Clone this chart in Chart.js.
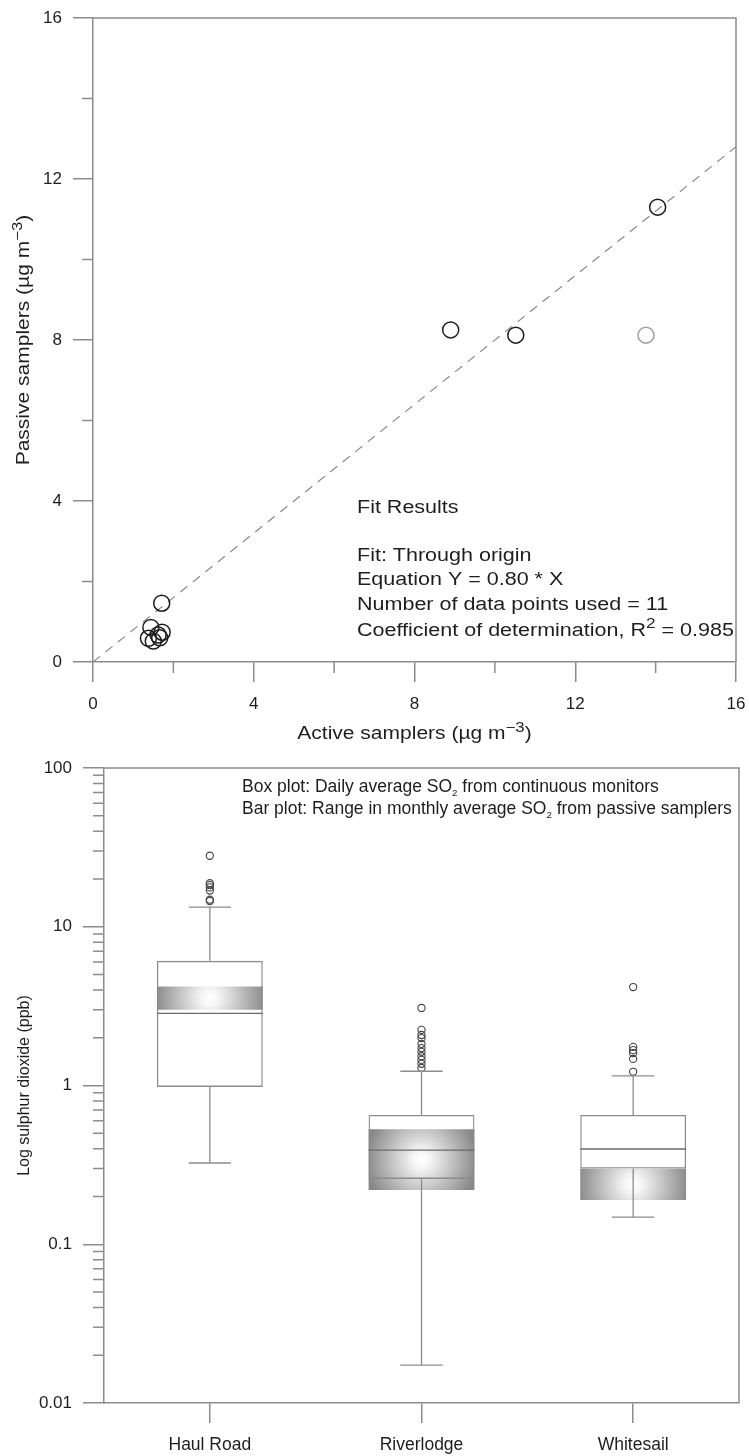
<!DOCTYPE html>
<html>
<head>
<meta charset="utf-8">
<script src="https://cdn.jsdelivr.net/npm/chart.js@4.4.1/dist/chart.umd.min.js"></script>
<style>
  html, body { margin: 0; padding: 0; background: #fff; }
  canvas { display: block; }
</style>
</head>
<body>
<canvas id="fitChart" width="749" height="750"></canvas>
<canvas id="boxChart" width="749" height="706"></canvas>
<script>
// ---- top panel: passive vs active samplers ----
const activeX  = [14.05, 8.9, 10.52, 1.71, 1.44, 1.38, 1.5, 1.62, 1.72, 1.66];
const passiveY = [11.3, 8.25, 8.12, 1.46, 0.86, 0.59, 0.52, 0.67, 0.74, 0.6];
const greyX = [13.76];
const greyY = [8.12];
const fitX = [0, 16];
const fitY = [0, 12.8];
const linTicks = [0, 2, 4, 6, 8, 10, 12, 14, 16];
const linMinor = [2, 6, 10, 14];

// ---- bottom panel: SO2 box plots ----
const sites = ['Haul Road', 'Riverlodge', 'Whitesail'];
const q1 = [0.98, 0.258, 0.30];
const q3 = [6.1, 0.652, 0.652];
const median = [2.85, 0.392, 0.398];
const whiskLo = [0.325, 0.0173, 0.148];
const whiskHi = [13.3, 1.23, 1.15];
const passLo = [3.0, 0.22, 0.19];
const passHi = [4.2, 0.53, 0.30];
const outHaul = [28.0, 18.8, 18.3, 17.7, 16.9, 14.8, 14.5];
const outRiver = [3.08, 2.24, 2.08, 1.99, 1.83, 1.72, 1.63, 1.53, 1.45, 1.37, 1.29];
const outWhite = [4.17, 1.75, 1.67, 1.6, 1.47, 1.22];
const decades = [0.01, 0.1, 1, 10, 100];

const FONT = "'Liberation Sans', Arial, sans-serif";
const axisColor = '#8c8c8c';
const textColor = '#1e1e1e';
Chart.defaults.font.family = FONT;
Chart.defaults.color = textColor;

const logTicks = [];
decades.forEach((d, k) => {
  if (k === decades.length - 1) { logTicks.push(d); return; }
  for (let n = 1; n <= 9; n++) logTicks.push(+(d * n).toPrecision(3));
});
const logMinor = logTicks.filter(v => !decades.includes(v));

// frame on top/right + short minor ticks
function frameAndMinor(minor) {
  return {
    id: 'frameAndMinor',
    afterDraw(chart) {
      const { ctx, chartArea: a, scales } = chart;
      ctx.save();
      ctx.strokeStyle = axisColor; ctx.lineWidth = 1.5;
      ctx.beginPath();
      ctx.moveTo(a.left, a.top); ctx.lineTo(a.right, a.top); ctx.lineTo(a.right, a.bottom);
      ctx.stroke();
      ctx.beginPath();
      (minor.x || []).forEach(v => {
        const p = scales.x.getPixelForValue(v);
        ctx.moveTo(p, a.bottom); ctx.lineTo(p, a.bottom + 11);
      });
      (minor.y || []).forEach(v => {
        const p = scales.y.getPixelForValue(v);
        ctx.moveTo(a.left - 11, p); ctx.lineTo(a.left, p);
      });
      ctx.stroke();
      ctx.restore();
    }
  };
}

// text with super/subscripts, optional rotation and horizontal stretch
function drawRich(ctx, it) {
  ctx.save();
  ctx.translate(it.x, it.y);
  if (it.rotate) ctx.rotate(it.rotate);
  ctx.scale(it.sx || 1, 1);
  ctx.fillStyle = textColor;
  ctx.textBaseline = 'alphabetic';
  const segs = it.parts.map(p => typeof p === 'string' ? { t: p } : p);
  const sizeOf = s => s.sup ? it.size * 0.8 : s.sub ? it.size * 0.55 : it.size;
  let total = 0;
  segs.forEach(s => { ctx.font = sizeOf(s) + 'px ' + FONT; s.w = ctx.measureText(s.t).width; total += s.w; });
  let cx = it.align === 'center' ? -total / 2 : 0;
  segs.forEach(s => {
    ctx.font = sizeOf(s) + 'px ' + FONT;
    const dy = s.sup ? -it.size * 0.42 : s.sub ? it.size * 0.2 : 0;
    ctx.fillText(s.t, cx, dy);
    cx += s.w;
  });
  ctx.restore();
}
function notes(items) {
  return { id: 'notes', afterDraw(chart) { items.forEach(it => drawRich(chart.ctx, it)); } };
}

function axisBase(major) {
  return {
    grid: { drawOnChartArea: false, tickLength: 20, lineWidth: 1.5,
            color: c => major(c.tick && c.tick.value) ? axisColor : 'rgba(0,0,0,0)' },
    border: { color: axisColor, width: 1.5 }
  };
}
// fixed axis sizes, no extra label overflow padding
const fixX = h => s => { s.height = h; s.paddingLeft = 0; s.paddingRight = 0; };
const fixY = w => s => { s.width = w; s.paddingTop = 0; s.paddingBottom = 0; };

// ===== TOP: scatter with fit line =====
const isLinMajor = v => v % 4 === 0;
new Chart(document.getElementById('fitChart'), {
  type: 'scatter',
  data: {
    datasets: [
      { label: 'Samplers', data: activeX.map((x, i) => ({ x, y: passiveY[i] })),
        pointRadius: 8, pointBorderWidth: 1.5, pointBorderColor: '#1e1e1e', pointBackgroundColor: 'rgba(0,0,0,0)' },
      { label: 'Other', data: greyX.map((x, i) => ({ x, y: greyY[i] })),
        pointRadius: 8, pointBorderWidth: 1.5, pointBorderColor: '#a0a0a0', pointBackgroundColor: 'rgba(0,0,0,0)' },
      { label: 'Fit', type: 'line', data: fitX.map((x, i) => ({ x, y: fitY[i] })),
        borderColor: '#8a8a8a', borderWidth: 1.2, borderDash: [9, 7], pointRadius: 0, fill: false }
    ]
  },
  options: {
    responsive: false, animation: false,
    layout: { padding: { top: 18, right: 13, left: 0, bottom: 0 } },
    plugins: { legend: { display: false }, tooltip: { enabled: false } },
    scales: {
      x: { type: 'linear', min: 0, max: 16, ...axisBase(isLinMajor),
        afterBuildTicks: s => { s.ticks = linTicks.map(v => ({ value: v })); },
        afterFit: fixX(88),
        ticks: { autoSkip: false, maxRotation: 0, padding: 12, font: { size: 17 }, color: textColor,
                 callback: v => isLinMajor(v) ? String(v) : '' } },
      y: { type: 'linear', min: 0, max: 16, ...axisBase(isLinMajor),
        afterBuildTicks: s => { s.ticks = linTicks.map(v => ({ value: v })); },
        afterFit: fixY(93),
        ticks: { autoSkip: false, padding: 11, font: { size: 17 }, color: textColor,
                 callback: v => isLinMajor(v) ? String(v) : '' } }
    }
  },
  plugins: [
    frameAndMinor({ x: linMinor, y: linMinor }),
    notes([
      { parts: ['Active samplers (\u00b5g m', { t: '\u22123', sup: true }, ')'], x: 414.5, y: 739, size: 17.5, sx: 1.2, align: 'center' },
      { parts: ['Passive samplers (\u00b5g m', { t: '\u22123', sup: true }, ')'], x: 29, y: 340, size: 17.5, sx: 1.2, align: 'center', rotate: -Math.PI / 2 },
      { parts: ['Fit Results'], x: 357, y: 513, size: 18, sx: 1.195 },
      { parts: ['Fit: Through origin'], x: 357, y: 561, size: 18, sx: 1.195 },
      { parts: ['Equation Y = 0.80 * X'], x: 357, y: 585, size: 18, sx: 1.195 },
      { parts: ['Number of data points used = 11'], x: 357, y: 610, size: 18, sx: 1.195 },
      { parts: ['Coefficient of determination, R', { t: '2', sup: true }, ' = 0.985'], x: 357, y: 636, size: 18, sx: 1.195 }
    ])
  ]
});

// ===== BOTTOM: box plots with passive range bars =====
function bandFill(c) {
  const chart = c.chart;
  if (c.type !== 'data' || !chart.chartArea) return '#b0b0b0';
  const i = c.dataIndex;
  const { x, y } = chart.scales;
  const cx = x.getPixelForValue(i);
  const top = y.getPixelForValue(passHi[i]), bot = y.getPixelForValue(passLo[i]);
  const cy = (top + bot) / 2;
  const r = Math.max(x.width / sites.length / 4, (bot - top) / 2) * 1.05;
  const g = chart.ctx.createRadialGradient(cx, cy, 0, cx, cy, r);
  g.addColorStop(0, '#ffffff');
  g.addColorStop(0.15, '#f6f6f6');
  g.addColorStop(1, '#888888');
  return g;
}

const whiskers = {
  id: 'whiskers',
  afterDatasetsDraw(chart) {
    const { ctx, scales: { x, y } } = chart;
    const meta = chart.getDatasetMeta(1);
    ctx.save();
    ctx.lineWidth = 1.3;
    sites.forEach((s, i) => {
      const cx = x.getPixelForValue(i);
      const half = meta.data[i].width / 2;
      const cap = half * 0.4;
      const seg = (x1, y1, x2, y2) => { ctx.beginPath(); ctx.moveTo(x1, y1); ctx.lineTo(x2, y2); ctx.stroke(); };
      ctx.strokeStyle = axisColor;
      seg(cx, y.getPixelForValue(q3[i]), cx, y.getPixelForValue(whiskHi[i]));
      seg(cx, y.getPixelForValue(q1[i]), cx, y.getPixelForValue(whiskLo[i]));
      seg(cx - cap, y.getPixelForValue(whiskHi[i]), cx + cap, y.getPixelForValue(whiskHi[i]));
      seg(cx - cap, y.getPixelForValue(whiskLo[i]), cx + cap, y.getPixelForValue(whiskLo[i]));
      ctx.strokeStyle = '#6a6a6a';
      seg(cx - half, y.getPixelForValue(median[i]), cx + half, y.getPixelForValue(median[i]));
    });
    ctx.restore();
  }
};

const outlierPts = [
  ...outHaul.map(v => ({ x: sites[0], y: v })),
  ...outRiver.map(v => ({ x: sites[1], y: v })),
  ...outWhite.map(v => ({ x: sites[2], y: v }))
];
const barCommon = { grouped: false, barPercentage: 0.5, categoryPercentage: 1.0, borderSkipped: false };
const isDecade = v => decades.includes(v);

new Chart(document.getElementById('boxChart'), {
  type: 'bar',
  data: {
    labels: sites,
    datasets: [
      { type: 'line', label: 'Outliers', data: outlierPts, showLine: false, order: 0,
        pointRadius: 3.6, pointBorderWidth: 1.1, pointBorderColor: '#404040', pointBackgroundColor: 'rgba(0,0,0,0)' },
      { label: 'Box outline', data: sites.map((s, i) => [q1[i], q3[i]]), order: 1, ...barCommon,
        backgroundColor: 'rgba(0,0,0,0)', borderColor: axisColor, borderWidth: 1.3 },
      { label: 'Passive range', data: sites.map((s, i) => [passLo[i], passHi[i]]), order: 2, ...barCommon,
        backgroundColor: bandFill, borderWidth: 0 },
      { label: 'Box', data: sites.map((s, i) => [q1[i], q3[i]]), order: 3, ...barCommon,
        backgroundColor: '#ffffff', borderWidth: 0 }
    ]
  },
  options: {
    responsive: false, animation: false,
    layout: { padding: { top: 18, right: 10, left: 0, bottom: 0 } },
    plugins: { legend: { display: false }, tooltip: { enabled: false } },
    scales: {
      x: { grid: { offset: false, drawOnChartArea: false, tickLength: 20, lineWidth: 1.5, color: axisColor },
           border: { color: axisColor, width: 1.5 },
           afterFit: fixX(53),
           ticks: { padding: 12, font: { size: 17.5 }, color: textColor, maxRotation: 0 } },
      y: { type: 'logarithmic', min: 0.01, max: 100, ...axisBase(isDecade),
           grid: { drawOnChartArea: false, tickLength: 21, lineWidth: 1.5,
                   color: c => isDecade(c.tick && c.tick.value) ? axisColor : 'rgba(0,0,0,0)' },
           afterBuildTicks: s => { s.ticks = logTicks.map(v => ({ value: v, major: isDecade(v) })); },
           afterFit: fixY(104),
           ticks: { autoSkip: false, padding: 11, font: { size: 17 }, color: textColor,
                    callback: v => isDecade(v) ? String(v) : '' } }
    }
  },
  plugins: [
    whiskers,
    frameAndMinor({ y: logMinor }),
    notes([
      { parts: ['Box plot: Daily average SO', { t: '2', sub: true }, ' from continuous monitors'], x: 242, y: 42, size: 17.5 },
      { parts: ['Bar plot: Range in monthly average SO', { t: '2', sub: true }, ' from passive samplers'], x: 242, y: 64, size: 17.5 },
      { parts: ['Log sulphur dioxide (ppb)'], x: 29, y: 335.5, size: 16, align: 'center', rotate: -Math.PI / 2 }
    ])
  ]
});
</script>
</body>
</html>
